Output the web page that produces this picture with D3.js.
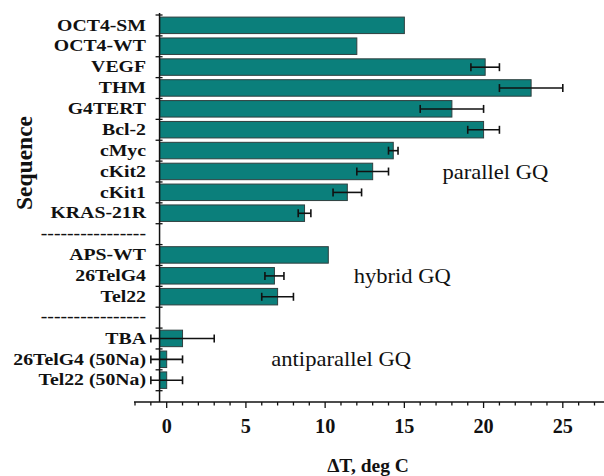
<!DOCTYPE html>
<meta charset="utf-8">
<script src="https://d3js.org/d3.v7.min.js"></script>
<style>
  body { margin: 0; background: #fff; }
  text { font-family: "Liberation Serif", "Times New Roman", serif; fill: #111; }
</style>
<div id="my_dataviz"></div>
<script>

// sequences, top to bottom; "gap" rows hold the dashed separators
var sequences = ["OCT4-SM", "OCT4-WT", "VEGF", "THM", "G4TERT", "Bcl-2", "cMyc", "cKit2", "cKit1", "KRAS-21R",
                 "gap1", "APS-WT", "26TelG4", "Tel22",
                 "gap2", "TBA", "26TelG4 (50Na)", "Tel22 (50Na)"];
var deltaT = [15, 12, 20.1, 23, 18, 20, 14.3, 13, 11.4, 8.7,
              null, 10.2, 6.8, 7,
              null, 1, 0, 0];
var errors = [null, null, 0.9, 2, 2, 1, 0.3, 1, 0.9, 0.4,
              null, null, 0.6, 1,
              null, 2, 1, 1];
var xTicks = [0, 5, 10, 15, 20, 25];
var groupLabels = ["parallel GQ", "hybrid GQ", "antiparallel GQ"];
var groupRows = ["cKit2", "26TelG4", "26TelG4 (50Na)"];
var groupValues = [17.4, 11.8, 6.6];   // left edge of each label, in deg C

var width = 604, height = 476;
var stretch = 1.13;   // the source figure's labels are slightly widened

var svg = d3.select("#my_dataviz")
  .append("svg")
    .attr("width", width)
    .attr("height", height);

var x = d3.scaleLinear()
  .domain([-2, 27.6])
  .range([135, 604]);

var y = d3.scaleBand()
  .domain(sequences)
  .range([15, 390.7]);

var axisX = -0.45;     // where the y axis crosses
var axisY = 402;

var rows = sequences.map(function (s, i) { return {name: s, v: deltaT[i], e: errors[i]}; });

// bars
svg.append("g")
  .selectAll("rect")
  .data(rows.filter(function (d) { return d.v !== null; }))
  .enter()
  .append("rect")
    .attr("x", x(axisX))
    .attr("y", function (d) { return y(d.name) + y.bandwidth() * 0.1; })
    .attr("width", function (d) { return x(d.v) - x(axisX); })
    .attr("height", y.bandwidth() * 0.79)
    .style("fill", "#0b7f7b")
    .style("stroke", "#2f3f3f")
    .style("stroke-width", 1);

// error bars
var eb = svg.append("g")
  .selectAll("g")
  .data(rows.filter(function (d) { return d.e !== null; }))
  .enter()
  .append("g")
    .attr("transform", function (d) { return "translate(0," + (y(d.name) + y.bandwidth() * 0.5) + ")"; });
eb.append("line")
  .attr("x1", function (d) { return x(d.v - d.e); })
  .attr("x2", function (d) { return x(d.v + d.e); })
  .style("stroke", "#111").style("stroke-width", 1.6);
eb.selectAll(".cap")
  .data(function (d) { return [d.v - d.e, d.v + d.e]; })
  .enter()
  .append("line")
    .attr("class", "cap")
    .attr("x1", function (v) { return x(v); })
    .attr("x2", function (v) { return x(v); })
    .attr("y1", -4).attr("y2", 4)
    .style("stroke", "#111").style("stroke-width", 1.6);

// y axis: line with ticks at every row boundary
var yAx = svg.append("g");
yAx.append("line")
  .attr("x1", x(axisX)).attr("x2", x(axisX))
  .attr("y1", 13).attr("y2", axisY)
  .style("stroke", "#111").style("stroke-width", 1.5);
var bounds = sequences.map(function (s) { return y(s); }).concat([y.range()[1]]);
yAx.selectAll(".tk")
  .data(bounds)
  .enter()
  .append("line")
    .attr("x1", x(axisX) - 4).attr("x2", x(axisX) + 3)
    .attr("y1", function (d) { return d; }).attr("y2", function (d) { return d; })
    .style("stroke", "#111").style("stroke-width", 1.3);

// category labels (gap rows get a line of dashes)
svg.append("g")
  .selectAll("text")
  .data(rows)
  .enter()
  .append("text")
    .attr("transform", function (d) { return "translate(146," + (y(d.name) + y.bandwidth() * 0.5 - 1) + ") scale(" + stretch + ",1)"; })
    .attr("text-anchor", "end")
    .style("font-size", "17.5px")
    .style("font-weight", "bold")
    .text(function (d) { return d.name.indexOf("gap") === 0 ? "----------------" : d.name; })
    .attr("dy", function (d) { return d.name.indexOf("gap") === 0 ? "0.32em" : "0.35em"; });

// x axis
var xAx = svg.append("g").attr("transform", "translate(0," + axisY + ")");
xAx.append("line")
  .attr("x1", x(-2) - 1).attr("x2", width)
  .style("stroke", "#111").style("stroke-width", 1.5);
xAx.selectAll(".minor")
  .data(d3.range(-2, 28))
  .enter()
  .append("line")
    .attr("x1", function (d) { return x(d); }).attr("x2", function (d) { return x(d); })
    .attr("y1", 0).attr("y2", function (d) { return d % 5 === 0 ? 6 : 3.5; })
    .style("stroke", "#111").style("stroke-width", 1.3);
xAx.selectAll("text")
  .data(xTicks)
  .enter()
  .append("text")
    .attr("transform", function (d) { return "translate(" + x(d) + ",31) scale(0.92,1)"; })
    .attr("text-anchor", "middle")
    .style("font-size", "22px")
    .style("font-weight", "bold")
    .text(function (d) { return d; });

// axis titles
svg.append("text")
  .attr("transform", "translate(368,472)")
  .attr("text-anchor", "middle")
  .style("font-size", "19.5px")
  .style("font-weight", "bold")
  .text("ΔT, deg C");

svg.append("text")
  .attr("transform", "translate(32,163) rotate(-90)")
  .attr("text-anchor", "middle")
  .style("font-size", "23.5px")
  .style("font-weight", "bold")
  .text("Sequence");

// group annotations
svg.append("g")
  .selectAll("text")
  .data(groupLabels)
  .enter()
  .append("text")
    .attr("transform", function (d, i) { return "translate(" + x(groupValues[i]) + "," + (y(groupRows[i]) + y.bandwidth() * 0.5) + ") scale(" + stretch + ",1)"; })
    .attr("dy", "0.35em")
    .style("font-size", "20px")
    .text(function (d) { return d; });

</script>
